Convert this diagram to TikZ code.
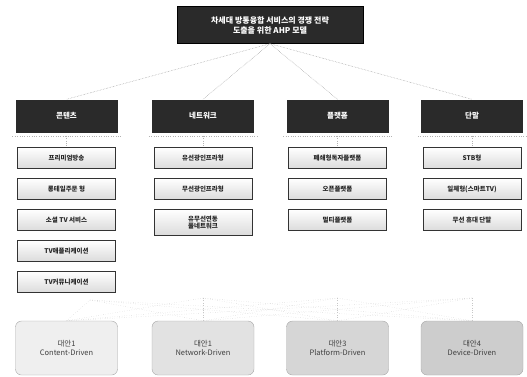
\documentclass[tikz,border=0pt]{standalone}
\usepackage{fontspec}
\setmainfont{Noto Sans CJK KR}
\usetikzlibrary{positioning}
\definecolor{catfill}{HTML}{2A2A2A}
\definecolor{linegray}{HTML}{9A9A9A}
\definecolor{alt1}{HTML}{EFEFEF}
\definecolor{alt2}{HTML}{E2E2E2}
\definecolor{alt3}{HTML}{D6D6D6}
\definecolor{alt4}{HTML}{CDCDCD}
\tikzset{
  titlebox/.style={draw=black, fill=catfill, text=white, minimum width=186pt, minimum height=37pt, inner sep=1pt, align=center, font=\fontsize{8}{10}\selectfont\bfseries},
  catbox/.style={fill=catfill, text=white, minimum width=102pt, minimum height=33pt, inner sep=1pt, font=\fontsize{7.5}{8}\selectfont\bfseries},
  subbox/.style={draw=black!80, line width=0.7pt, top color=white, bottom color=black!14, minimum width=98pt, minimum height=21pt, inner sep=1pt, align=center, font=\fontsize{6.5}{7.5}\selectfont\bfseries, text=black!85},
  altbox/.style={draw=black!35, rounded corners=6pt, minimum width=102pt, minimum height=54pt, inner sep=1pt, align=center, font=\fontsize{7.5}{9.5}\selectfont, text=black!75},
  link/.style={draw=linegray, densely dotted, line width=0.5pt},
  faint/.style={draw=black!30, dotted, line width=0.4pt},
  cross/.style={draw=black!22, dotted, line width=0.4pt},
}
\begin{document}
\begin{tikzpicture}[x=1pt,y=-1pt]
\useasboundingbox (0,0) rectangle (527,376);

\node[titlebox] (title) at (270,25) {차세대 방통융합 서비스의 경쟁 전략\\도출을 위한 AHP 모델};

\node[catbox] (c1) at (66.5,116) {콘텐츠};
\node[catbox] (c2) at (203,116) {네트워크};
\node[catbox] (c3) at (337.5,116) {플랫폼};
\node[catbox] (c4) at (472,116) {단말};

\foreach \i in {1,2,3,4} {
  \draw[faint] ([xshift=-3pt,yshift=-3pt]c\i.south west) -- ([xshift=3pt,yshift=-3pt]c\i.south east);
}

\node[subbox] (s11) at (66.5,158) {프리미엄방송};
\node[subbox] (s12) at (66.5,189) {롱테일주문 형};
\node[subbox] (s13) at (66.5,220) {소셜 TV 서비스};
\node[subbox] (s14) at (66.5,251) {TV애플리케이션};
\node[subbox] (s15) at (66.5,282) {TV커뮤니케이션};

\node[subbox] (s21) at (203,158) {유선광인프라형};
\node[subbox] (s22) at (203,189) {무선광인프라형};
\node[subbox, minimum height=26pt, font=\fontsize{6.5}{7.5}\selectfont\bfseries] (s23) at (203,222.5) {유무선연동\\풀네트워크};

\node[subbox] (s31) at (337.5,158) {폐쇄형독자플랫폼};
\node[subbox] (s32) at (337.5,189) {오픈플랫폼};
\node[subbox] (s33) at (337.5,220) {멀티플랫폼};

\node[subbox] (s41) at (472,158) {STB형};
\node[subbox] (s42) at (472,189) {일체형(스마트TV)};
\node[subbox] (s43) at (472,220) {무선 휴대 단말};

\node[altbox, fill=alt1] (a1) at (66.5,348) {대안1\\Content-Driven};
\node[altbox, fill=alt2] (a2) at (203,348) {대안1\\Network-Driven};
\node[altbox, fill=alt3] (a3) at (337.5,348) {대안3\\Platform-Driven};
\node[altbox, fill=alt4] (a4) at (472,348) {대안4\\Device-Driven};

\foreach \i in {1,2,3,4} {
  \draw[link] (title.south) -- (c\i.north);
  \draw[faint] ([yshift=-3pt]c\i.south) -- (s\i1.north);
}

\coordinate (b1) at (90,300);
\coordinate (b2) at (203,298);
\coordinate (b3) at (337.5,298);
\coordinate (b4) at (472,298);
\foreach \i in {1,2,3,4} {
  \foreach \j in {1,2,3,4} {
    \draw[cross] (b\i) -- (a\j.north);
  }
}
\end{tikzpicture}
\end{document}
